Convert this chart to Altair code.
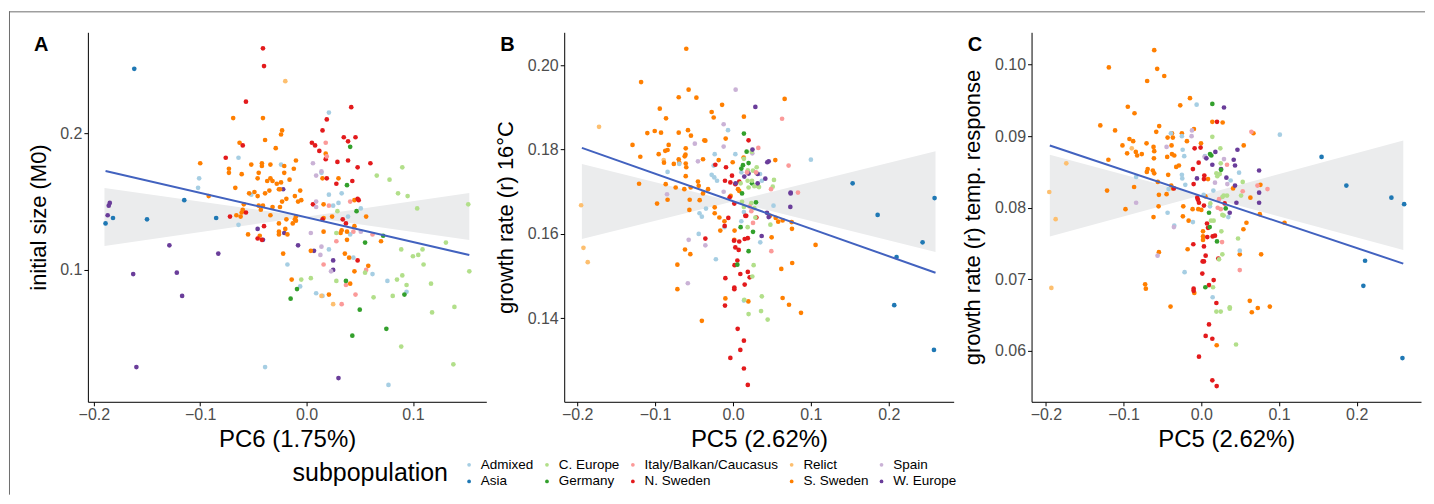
import altair as alt
import pandas as pd

FONT = "Liberation Sans"

GROUP_NAMES = {"AD": "Admixed", "AS": "Asia", "CE": "C. Europe", "GE": "Germany",
               "IT": "Italy/Balkan/Caucasus", "NS": "N. Sweden", "RE": "Relict",
               "SS": "S. Sweden", "SP": "Spain", "WE": "W. Europe"}
LEGEND_ORDER = ["Admixed", "Asia", "C. Europe", "Germany", "Italy/Balkan/Caucasus",
                "N. Sweden", "Relict", "S. Sweden", "Spain", "W. Europe"]
LEGEND_COLORS = ["#A6CEE3", "#1F78B4", "#B2DF8A", "#33A02C", "#FB9A99",
                 "#E31A1C", "#FDBF6F", "#FF7F00", "#CAB2D6", "#6A3D9A"]

# ---------------- panel A: PC6 vs initial size ----------------
a_pts = {
 "WE": [(-0.185,0.149),(-0.186,0.147),(-0.187,0.140),(-0.129,0.118),(-0.083,0.112),(-0.163,0.097),(-0.122,0.098),(-0.117,0.081),(-0.160,0.029),(-0.046,0.130),(-0.041,0.122),(-0.022,0.159),(-0.021,0.127),(-0.008,0.118),(0.007,0.114),(0.025,0.107),(0.025,0.100),(0.030,0.021)],
 "AS": [(-0.189,0.134),(-0.182,0.138),(-0.150,0.137),(-0.115,0.151),(-0.085,0.138),(-0.162,0.247)],
 "AD": [(-0.101,0.167),(-0.102,0.160),(-0.064,0.182),(-0.064,0.133),(-0.052,0.155),(-0.039,0.029),(-0.024,0.177),(-0.018,0.104),(-0.006,0.088),(0.009,0.083),(0.015,0.081),(0.014,0.171),(0.021,0.215),(0.021,0.155),(0.033,0.156),(0.030,0.149),(0.025,0.147),(0.039,0.139),(0.041,0.126),(0.051,0.145),(0.021,0.115),(0.044,0.109),(0.062,0.097),(0.076,0.092),(0.094,0.084),(0.077,0.016)],
 "SS": [(-0.092,0.154),(-0.100,0.178),(-0.069,0.211),(-0.041,0.211),(-0.039,0.195),(-0.063,0.193),(-0.073,0.174),(-0.073,0.171),(-0.061,0.170),(-0.067,0.160),(-0.052,0.177),(-0.042,0.178),(-0.042,0.176),(-0.034,0.177),(-0.029,0.189),(-0.023,0.202),(-0.024,0.199),(-0.021,0.176),(-0.021,0.171),(-0.012,0.174),(-0.010,0.180),(-0.045,0.171),(-0.046,0.167),(-0.037,0.165),(-0.034,0.167),(-0.032,0.165),(-0.028,0.163),(-0.024,0.164),(-0.016,0.166),(-0.025,0.159),(-0.054,0.156),(-0.049,0.157),(-0.039,0.156),(-0.035,0.158),(-0.026,0.159),(-0.019,0.152),(-0.023,0.150),(-0.011,0.154),(-0.006,0.158),(-0.008,0.150),(-0.005,0.151),(-0.046,0.154),(-0.059,0.148),(-0.060,0.144),(-0.061,0.142),(-0.066,0.140),(-0.062,0.139),(-0.045,0.147),(-0.043,0.144),(-0.041,0.147),(-0.032,0.146),(-0.034,0.140),(-0.025,0.146),(-0.019,0.137),(-0.010,0.139),(-0.011,0.137),(-0.010,0.136),(-0.013,0.134),(-0.026,0.134),(-0.020,0.130),(-0.026,0.126),(-0.026,0.128),(-0.018,0.126),(-0.055,0.126),(-0.044,0.125),(-0.022,0.112),(-0.014,0.093),(0.004,0.114),(0.015,0.167),(0.018,0.185),(0.030,0.167),(0.045,0.151),(0.016,0.148),(0.024,0.139),(0.016,0.138),(0.045,0.132),(0.033,0.129),(0.032,0.127),(0.038,0.128),(0.038,0.122),(0.016,0.128),(0.070,0.121),(0.056,0.139),(0.036,0.112),(0.040,0.109),(0.058,0.103),(0.045,0.099),(0.041,0.090),(0.021,0.082)],
 "NS": [(-0.076,0.182),(-0.060,0.191),(-0.057,0.223),(-0.041,0.262),(-0.040,0.249),(-0.057,0.142),(-0.072,0.139),(-0.040,0.132),(-0.046,0.123),(-0.042,0.122),(0.019,0.167),(0.006,0.148),(0.005,0.193),(0.008,0.191),(0.015,0.202),(0.019,0.210),(0.012,0.187),(0.018,0.181),(0.028,0.163),(0.029,0.179),(0.035,0.197),(0.039,0.194),(0.046,0.197),(0.042,0.219),(0.039,0.180),(0.048,0.175),(0.060,0.178),(0.043,0.165),(0.048,0.152),(0.049,0.151),(0.015,0.137),(0.034,0.137),(0.037,0.134),(0.048,0.107)],
 "RE": [(-0.020,0.238),(0.014,0.081),(0.025,0.075)],
 "IT": [(0.018,0.193),(0.019,0.183),(0.041,0.150),(0.021,0.147),(0.044,0.128),(0.028,0.121),(0.062,0.126),(0.016,0.104),(0.056,0.100),(0.037,0.089),(0.046,0.082),(0.033,0.075)],
 "SP": [(0.013,0.111),(0.014,0.117),(0.004,0.127),(0.009,0.150),(0.009,0.146),(0.006,0.178),(0.009,0.169),(0.014,0.172),(0.051,0.128),(0.023,0.099)],
 "CE": [(-0.005,0.093),(0.004,0.094),(0.029,0.143),(0.028,0.127),(0.055,0.098),(0.028,0.092),(0.063,0.080),(0.085,0.093),(0.081,0.081),(0.094,0.089),(0.090,0.096),(0.089,0.115),(0.100,0.110),(0.105,0.111),(0.109,0.115),(0.110,0.104),(0.117,0.090),(0.118,0.069),(0.131,0.120),(0.139,0.073),(0.138,0.031),(0.153,0.099),(0.152,0.148),(0.104,0.145),(0.095,0.154),(0.086,0.156),(0.078,0.166),(0.066,0.169),(0.090,0.175),(0.089,0.044)],
 "GE": [(-0.015,0.079),(-0.009,0.086),(0.041,0.190),(0.038,0.162),(0.047,0.143),(0.055,0.120),(0.072,0.125),(0.037,0.092),(0.050,0.071),(0.092,0.082),(0.075,0.057),(0.043,0.052)],
}
a_fit_x = [-0.189, 0.153]
a_fit_y = [0.1723, 0.1109]
a_band_x = [-0.190, 0.153]
a_band_1 = [0.1599, 0.1219]
a_band_2 = [0.1175, 0.1562]

# ---------------- panel B: PC5 vs growth rate 16C ----------------
b_pts = {
 "RE": [(-0.195,0.1668),(-0.192,0.1567),(-0.1865,0.1533),(-0.172,0.1854),(-0.089,0.1775)],
 "SS": [(-0.129,0.1811),(-0.118,0.196),(-0.119,0.1783),(-0.1206,0.1719),(-0.110,0.1839),(-0.1005,0.1844),(-0.0924,0.184),(-0.094,0.1897),(-0.086,0.1874),(-0.0975,0.1672),(-0.0954,0.1789),(-0.087,0.1797),(-0.084,0.1799),(-0.0826,0.1811),(-0.0886,0.1769),(-0.0864,0.1718),(-0.084,0.1681),(-0.076,0.1766),(-0.0697,0.184),(-0.0697,0.1924),(-0.0697,0.1777),(-0.069,0.1769),(-0.057,0.1942),(-0.060,0.2039),(-0.0578,0.1846),(-0.054,0.1833),(-0.047,0.1923),(-0.0607,0.1803),(-0.061,0.1788),(-0.062,0.1784),(-0.0607,0.1767),(-0.060,0.1758),(-0.0607,0.1737),(-0.0543,0.171),(-0.0625,0.1706),(-0.0556,0.1681),(-0.056,0.1657),(-0.0616,0.1563),(-0.0548,0.1552),(-0.0714,0.1527),(-0.0714,0.1469),(-0.0736,0.171),(-0.045,0.1724),(-0.044,0.1714),(-0.0428,0.168),(-0.0385,0.1777),(-0.0368,0.1822),(-0.0355,0.1821),(-0.040,0.1394),(-0.0385,0.1696),(-0.032,0.1706),(-0.0274,0.1889),(-0.0248,0.1876),(-0.014,0.1906),(-0.0235,0.1663),(-0.0235,0.1649),(-0.0175,0.1639),(-0.0184,0.1775),(-0.0094,0.1826),(-0.0163,0.1608),(-0.011,0.163),(-0.003,0.169),(-0.0004,0.177),(0.014,0.1878),(0.0137,0.1781),(0.008,0.1702),(0.0064,0.1706),(0.0017,0.1586),(-0.0098,0.1447),(0.0197,0.144),(0.0637,0.1448),(0.0719,0.1432),(0.0873,0.1413),(0.062,0.1517),(0.076,0.1531),(0.106,0.1574),(0.002,0.1608),(0.0663,0.192),(0.0543,0.1775),(0.0475,0.1643),(0.0548,0.1638),(0.058,0.1629),(0.0637,0.1632),(0.0753,0.1628),(0.0757,0.1612),(0.0496,0.1592)],
 "AD": [(-0.084,0.1747),(-0.069,0.1766),(-0.043,0.1649),(-0.040,0.1641),(-0.044,0.160),(-0.0347,0.166),(-0.0274,0.174),(-0.024,0.1734),(-0.0235,0.1789),(-0.0248,0.1762),(-0.0205,0.1726),(-0.022,0.154),(-0.0064,0.1846),(-0.011,0.1616),(0.003,0.1789),(0.0107,0.1746),(0.037,0.1726),(0.0347,0.1742),(0.100,0.1776),(0.052,0.1667),(0.014,0.1652),(0.0107,0.163),(0.035,0.158),(0.014,0.1442)],
 "SP": [(-0.0847,0.1694),(-0.0569,0.1586),(-0.058,0.1483),(-0.049,0.1814),(-0.045,0.1772),(-0.0355,0.1573),(-0.012,0.186),(-0.012,0.1807),(-0.012,0.170),(0.0034,0.1942),(0.0248,0.1791)],
 "NS": [(-0.0355,0.1589),(-0.0227,0.1764),(-0.009,0.1758),(-0.0103,0.1726),(-0.0034,0.1722),(-0.0013,0.1738),(-0.006,0.1638),(-0.0107,0.1619),(-0.0043,0.1687),(0.003,0.1718),(0.008,0.1724),(0.0017,0.1672),(0.0013,0.1584),(0.008,0.1582),(0.003,0.1568),(0.0073,0.1562),(0.002,0.1526),(0.0056,0.1537),(-0.0098,0.1495),(0.0017,0.1473),(0.0017,0.1469),(-0.0103,0.143),(0.0094,0.1505),(0.015,0.148),(0.019,0.151),(0.0214,0.1497),(0.015,0.1588),(0.019,0.159),(0.017,0.1643),(0.006,0.1375),(0.014,0.1347),(0.0094,0.1325),(-0.0034,0.1306),(0.014,0.1281),(0.019,0.1242),(0.020,0.1822),(0.0158,0.1643),(0.030,0.1639)],
 "GE": [(0.0056,0.1527),(0.014,0.1838),(0.0175,0.1795),(0.0107,0.1755),(0.0128,0.1763),(0.020,0.1768),(0.0244,0.172),(0.0116,0.1696),(0.0295,0.1675),(0.0257,0.1605),(0.0098,0.1616),(0.020,0.1559)],
 "CE": [(0.014,0.1778),(0.024,0.1795),(0.019,0.1751),(0.0257,0.175),(0.0304,0.1758),(0.0304,0.1744),(0.0188,0.1726),(0.0244,0.1726),(0.020,0.171),(0.0274,0.1713),(0.032,0.1713),(0.0334,0.1711),(0.051,0.1712),(0.0526,0.1728),(0.0098,0.172),(0.0116,0.1676),(0.014,0.1664),(0.0235,0.1673),(0.0274,0.1661),(0.0287,0.1639),(0.0188,0.1616),(0.048,0.1622),(0.0265,0.1526),(0.0248,0.1499),(0.0145,0.1444),(0.037,0.1452),(0.036,0.1417),(0.020,0.141),(0.0445,0.1397)],
 "WE": [(0.0034,0.172),(0.025,0.18),(0.0287,0.1901),(0.044,0.177),(0.0458,0.1772),(0.0145,0.1736),(0.020,0.1743),(0.0317,0.1742),(0.0415,0.1731),(0.0317,0.172),(0.074,0.1698),(0.074,0.1696),(0.0736,0.1664),(0.0436,0.165),(0.0458,0.164),(0.0368,0.1595)],
 "IT": [(0.0325,0.1804),(0.063,0.1873),(0.0714,0.1762),(0.018,0.1746),(0.0295,0.1746),(0.0488,0.1706),(0.0834,0.1698),(0.0214,0.1665),(0.0235,0.1654),(0.0257,0.1626),(0.0492,0.1559)],
 "AS": [(0.1536,0.172),(0.1857,0.1645),(0.2434,0.158),(0.210,0.1545),(0.2588,0.1685),(0.207,0.1431),(0.258,0.1325)],
}
b_fit_x = [-0.194, 0.260]
b_fit_y = [0.1804, 0.1508]
b_band_x = [-0.194, 0.260]
b_band_1 = [0.1766, 0.1557]
b_band_2 = [0.1588, 0.1796]

# ---------------- panel C: PC5 vs growth rate temp. response ----------------
c_pts = {
 "RE": [(-0.1957,0.0822),(-0.1875,0.0784),(-0.193,0.0688),(-0.1738,0.0862),(-0.0895,0.0883)],
 "SS": [(-0.130,0.0915),(-0.119,0.0996),(-0.1196,0.0867),(-0.1213,0.0824),(-0.111,0.0908),(-0.1015,0.0887),(-0.0976,0.0798),(-0.0955,0.0876),(-0.0946,0.0941),(-0.0925,0.0896),(-0.0877,0.0893),(-0.086,0.0932),(-0.0843,0.0878),(-0.0826,0.0873),(-0.0766,0.0875),(-0.0865,0.0829),(-0.0705,0.089),(-0.0697,0.0977),(-0.069,0.0854),(-0.0701,0.085),(-0.0723,0.0693),(-0.0714,0.0687),(-0.0606,0.102),(-0.0568,0.0994),(-0.0477,0.0984),(-0.0615,0.0885),(-0.0606,0.0879),(-0.061,0.0869),(-0.0624,0.0852),(-0.0606,0.0848),(-0.058,0.0906),(-0.0542,0.0914),(-0.056,0.0836),(-0.0546,0.0818),(-0.055,0.0802),(-0.0615,0.0787),(-0.0546,0.0738),(-0.0434,0.0898),(-0.0439,0.0871),(-0.0426,0.0846),(-0.0447,0.0819),(-0.0378,0.0904),(-0.0366,0.0898),(-0.0383,0.0887),(-0.0378,0.0875),(-0.0348,0.0873),(-0.0387,0.0831),(-0.0366,0.0827),(-0.0396,0.0662),(-0.0323,0.0857),(-0.0288,0.0859),(-0.0271,0.0943),(-0.0146,0.0953),(-0.025,0.0904),(-0.0185,0.0893),(-0.0095,0.091),(-0.0232,0.0802),(-0.0237,0.0788),(-0.0163,0.0782),(-0.0176,0.0742),(-0.009,0.0681),(-0.0004,0.089),(-0.0112,0.0798),(-0.0039,0.0798),(0.0086,0.084),(0.0052,0.0816),(0.0,0.0797),(0.0022,0.0767),(0.0022,0.0755),(0.0022,0.076),(0.0198,0.0608),(0.0624,0.067),(0.065,0.0654),(0.0727,0.066),(0.0882,0.0662),(0.0495,0.0735),(0.077,0.0735),(0.0542,0.077),(0.0581,0.0779),(0.0753,0.0791),(0.1071,0.0779),(0.0142,0.092),(0.0275,0.0919),(0.0671,0.0904),(0.0546,0.0887),(0.0761,0.0832),(0.0632,0.0814),(0.0409,0.0827)],
 "AD": [(-0.0839,0.0843),(-0.0434,0.0793),(-0.0391,0.0904),(-0.0421,0.0826),(-0.0348,0.0775),(-0.006,0.0944),(-0.025,0.09),(-0.024,0.0881),(-0.022,0.0872),(-0.025,0.0846),(-0.0245,0.0841),(-0.0206,0.0832),(-0.0108,0.078),(-0.0215,0.071),(0.003,0.0818),(0.0112,0.0802),(0.0146,0.0675),(0.0495,0.074),(0.1011,0.0902),(0.0047,0.0872),(0.0486,0.0849),(0.0378,0.0838),(0.0155,0.0824),(0.0348,0.0787)],
 "SP": [(-0.0839,0.0807),(-0.0563,0.0733),(-0.0447,0.0885),(-0.0353,0.0773),(-0.012,0.0908),(-0.0125,0.09),(0.0043,0.0871),(0.0292,0.0868),(0.0176,0.0835),(0.0335,0.0833)],
 "NS": [(-0.0353,0.0827),(-0.0103,0.0749),(-0.0099,0.0687),(-0.0099,0.0684),(-0.0099,0.0833),(-0.0086,0.0883),(-0.0009,0.0884),(-0.0108,0.0854),(-0.0034,0.0863),(0.0039,0.0845),(0.0034,0.084),(-0.0052,0.0814),(-0.0043,0.0811),(-0.003,0.0807),(0.0034,0.0803),(0.0073,0.0778),(0.0086,0.0772),(0.0077,0.0759),(0.0146,0.076),(0.0176,0.0761),(0.0034,0.0746),(0.0056,0.0733),(0.0017,0.0725),(0.0034,0.0725),(0.0013,0.0708),(0.0159,0.0699),(0.0099,0.0692),(0.0194,0.0667),(0.0099,0.0637),(0.0056,0.0621),(0.0142,0.0617),(-0.003,0.0592),(0.0142,0.0559),(0.0198,0.0551),(0.0219,0.0729),(0.0202,0.092),(0.0301,0.0806)],
 "WE": [(-0.0056,0.0841),(0.0292,0.094),(0.0465,0.0881),(0.0181,0.0878),(0.0065,0.0869),(0.0142,0.086),(0.0254,0.0854),(0.0417,0.0867),(0.0434,0.0859),(0.0323,0.0842),(0.0434,0.0831),(0.0744,0.0852),(0.0744,0.0821),(0.0452,0.0807),(0.0744,0.0807),(0.0366,0.0793)],
 "CE": [(0.0125,0.0782),(0.0159,0.0782),(0.0151,0.0689),(0.0228,0.0728),(0.0271,0.0735),(0.0258,0.0767),(0.0194,0.0655),(0.025,0.0655),(0.0366,0.0661),(0.0366,0.0659),(0.0447,0.0609),(0.0473,0.0757),(0.0142,0.0899),(0.0245,0.0883),(0.025,0.0862),(0.0194,0.0848),(0.0206,0.0844),(0.0237,0.0847),(0.0533,0.0836),(0.0512,0.0817),(0.0288,0.0817),(0.0331,0.0817),(0.0271,0.0815),(0.0116,0.0806),(0.0271,0.079),(0.0288,0.0789)],
 "GE": [(0.0108,0.0773),(0.0052,0.0689),(0.0202,0.0753),(0.0142,0.0945),(0.0112,0.0875),(0.0129,0.0873),(0.0254,0.0853),(0.0314,0.0799),(0.0099,0.0793)],
 "IT": [(0.0267,0.0752),(0.0495,0.0713),(0.0645,0.0906),(0.0331,0.086),(0.0533,0.0823),(0.0723,0.0831),(0.0852,0.0826),(0.0228,0.0812),(0.0211,0.08),(0.025,0.0798)],
 "AS": [(0.1548,0.0871),(0.1867,0.0831),(0.2447,0.0814),(0.2611,0.0805),(0.2108,0.0726),(0.2086,0.0691),(0.2589,0.059)],
}
c_fit_x = [-0.195, 0.260]
c_fit_y = [0.0887, 0.0722]
c_band_x = [-0.195, 0.260]
c_band_1 = [0.0874, 0.0741]
c_band_2 = [0.0760, 0.0894]

LINE_COLOR = "#4262BF"
BAND_COLOR = "#EBECED"
FRAME_COLOR = "#6E6E6E"
H = 370


def to_df(pts):
    rows = []
    for code, lst in pts.items():
        for x, y in lst:
            rows.append({"x": x, "y": y, "subpopulation": GROUP_NAMES[code]})
    return pd.DataFrame(rows)


def panel(pts, fit_x, fit_y, band_x, band_1, band_2, xdom, ydom, xticks, yticks,
          xfmt, yfmt, xtitle, ytitle, letter, letter_dx, title_dx, width, frame=False):
    xs = alt.Scale(domain=xdom, nice=False, zero=False)
    ys = alt.Scale(domain=ydom, nice=False, zero=False)
    xa = alt.Axis(values=xticks, format=xfmt, title=xtitle)
    ya = alt.Axis(values=yticks, format=yfmt, title=ytitle, titleX=title_dx, titleY=H / 2)

    band_df = pd.DataFrame({"x": band_x, "b1": band_1, "b2": band_2})
    band = alt.Chart(band_df).mark_area(color=BAND_COLOR, opacity=1).encode(
        x=alt.X("x:Q", scale=xs, axis=xa),
        y=alt.Y("b1:Q", scale=ys, axis=ya),
        y2="b2:Q",
    )
    pts_chart = alt.Chart(to_df(pts)).mark_circle(size=22, opacity=1).encode(
        x=alt.X("x:Q", scale=xs, axis=xa),
        y=alt.Y("y:Q", scale=ys, axis=ya),
        color=alt.Color("subpopulation:N",
                        scale=alt.Scale(domain=LEGEND_ORDER, range=LEGEND_COLORS),
                        legend=alt.Legend(title="subpopulation")),
    )
    fit_df = pd.DataFrame({"x": fit_x, "y": fit_y})
    line = alt.Chart(fit_df).mark_line(color=LINE_COLOR, strokeWidth=2).encode(
        x=alt.X("x:Q", scale=xs, axis=xa),
        y=alt.Y("y:Q", scale=ys, axis=ya),
    )
    lab = alt.Chart(pd.DataFrame({"t": [letter]})).mark_text(
        font=FONT, fontSize=20, fontWeight="bold", align="left", baseline="alphabetic",
        color="black").encode(text="t:N", x=alt.value(letter_dx), y=alt.value(19))
    layers = [band, pts_chart, line, lab]
    if frame:
        one = pd.DataFrame({"k": [0]})
        vline = alt.Chart(one).mark_rule(color=FRAME_COLOR, strokeWidth=1).encode(
            x=alt.value(-78.5), y=alt.value(-21), y2=alt.value(463))
        hline = alt.Chart(one).mark_rule(color=FRAME_COLOR, strokeWidth=1).encode(
            x=alt.value(-79), x2=alt.value(1339), y=alt.value(-20.5))
        layers += [vline, hline]
    return alt.layer(*layers).properties(width=width, height=H)


pa = panel(a_pts, a_fit_x, a_fit_y, a_band_x, a_band_1, a_band_2,
           [-0.2056, 0.169], [0.00365, 0.2737], [-0.2, -0.1, 0.0, 0.1], [0.1, 0.2],
           ".1f", ".1f", "PC6 (1.75%)", "initial size (M0)", "A", -54, -37, 399, frame=True)
pb = panel(b_pts, b_fit_x, b_fit_y, b_band_x, b_band_1, b_band_2,
           [-0.2167, 0.2833], [0.1202, 0.2078], [-0.2, -0.1, 0.0, 0.1, 0.2],
           [0.14, 0.16, 0.18, 0.20], ".1f", ".2f", "PC5 (2.62%)",
           "growth rate (r) 16°C", "B", -64, -47, 390)
pc = panel(c_pts, c_fit_x, c_fit_y, c_band_x, c_band_1, c_band_2,
           [-0.2185, 0.2828], [0.0529, 0.1045], [-0.2, -0.1, 0.0, 0.1, 0.2],
           [0.06, 0.07, 0.08, 0.09, 0.10], ".1f", ".2f", "PC5 (2.62%)",
           "growth rate (r) temp. response", "C", -64, -47, 390)

chart = alt.hconcat(pa, pb, pc, spacing=78, bounds="flush").resolve_scale(
    color="shared").resolve_legend(color="shared").properties(
    padding={"left": 0, "top": 2, "right": 0, "bottom": 0}
).configure_view(stroke=None).configure_axis(
    grid=False, domainColor="black", domainWidth=1, tickColor="black", tickWidth=1,
    tickSize=4, labelFont=FONT, labelFontSize=16, labelColor="#4D4D4D",
    titleFont=FONT, titleFontWeight="normal", titleColor="black", titleFontSize=22,
).configure_axisX(
    labelPadding=1, titlePadding=5, titleFontSize=24,
).configure_axisY(
    labelPadding=2, titleFontSize=22, titleBaseline="bottom",
).configure_legend(
    orient="none", legendX=205, legendY=426, columns=5, titleOrient="left",
    titleFont=FONT, titleFontSize=25, titleFontWeight="normal", titleColor="black",
    titleAnchor="middle", titlePadding=14, labelFont=FONT, labelFontSize=13.5,
    labelColor="black", symbolType="circle", symbolSize=14, symbolStrokeWidth=0,
    columnPadding=6, rowPadding=2, labelOffset=5,
)

chart.save("out.html", embed_options={"renderer": "svg", "actions": False})
